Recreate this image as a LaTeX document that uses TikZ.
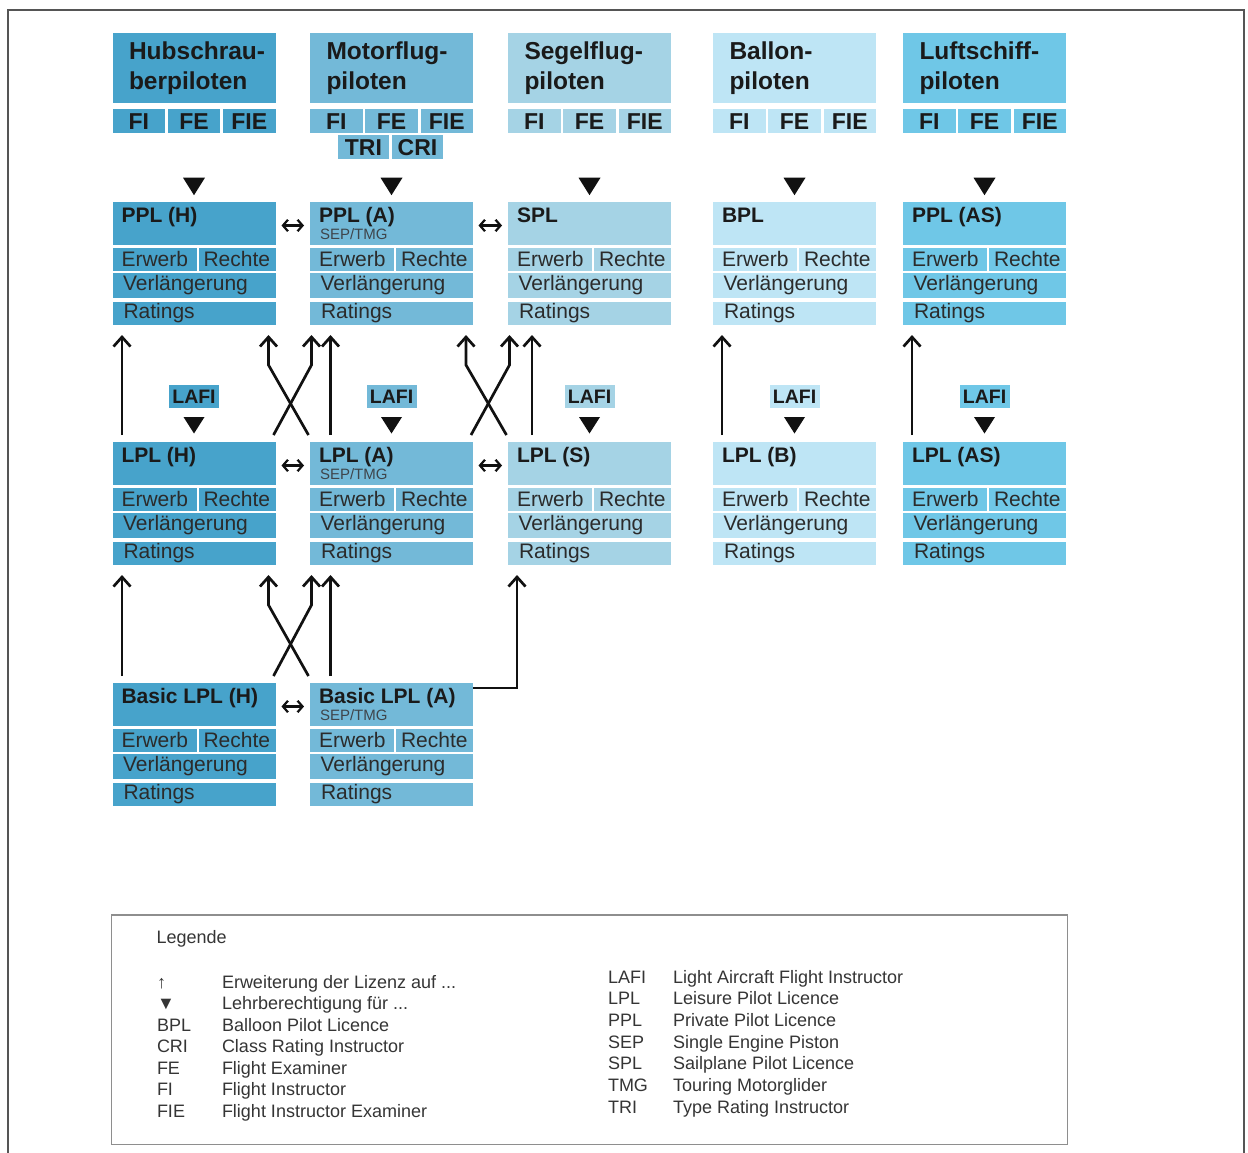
\documentclass[tikz,border=0pt]{standalone}
\usepackage{fontspec}
\setmainfont{Liberation Sans}
\usetikzlibrary{arrows.meta,calc}
\definecolor{cH}{HTML}{47A3CB}
\definecolor{cA}{HTML}{73B9D8}
\definecolor{cS}{HTML}{A5D3E5}
\definecolor{cB}{HTML}{BEE5F5}
\definecolor{cAS}{HTML}{6FC7E7}
\definecolor{txt}{HTML}{1A1A1A}
\definecolor{ctxt}{HTML}{2B2B2B}
\definecolor{subtxt}{HTML}{3E454B}
\definecolor{legtxt}{HTML}{353535}
\definecolor{legborder}{HTML}{8E8E8E}
\definecolor{framecol}{HTML}{555555}
\definecolor{arrcol}{HTML}{111111}
\newcommand\fsz[2]{\fontsize{#1}{#2}\selectfont}

\tikzset{
  cell/.style={rectangle, inner sep=0pt, outer sep=0pt, anchor=north west, draw=none},
  hcell/.style={cell, minimum width=52.5pt, minimum height=24pt, text=txt, font=\bfseries\fsz{23}{26}},
  ttl/.style={inner sep=0pt, outer sep=0pt, anchor=base west, text=txt, font=\bfseries\fsz{21}{25}},
  hdrttl/.style={inner sep=0pt, outer sep=0pt, anchor=base west, text=txt, font=\bfseries\fsz{24.5}{29}},
  celltxt/.style={inner sep=0pt, outer sep=0pt, anchor=base west, text=ctxt, font=\fsz{21}{24}},
  subt/.style={inner sep=0pt, outer sep=0pt, anchor=base west, text=subtxt, font=\fsz{15}{18}},
  lafi/.style={rectangle, inner sep=0pt, outer sep=0pt, minimum width=50pt, minimum height=23.5pt, text=txt, font=\bfseries\fsz{19.5}{22}},
  legt/.style={inner sep=0pt, outer sep=0pt, anchor=base west, text=legtxt, font=\fsz{18}{21}},
  uparr/.style={line width=2.7pt, draw=arrcol, -{Straight Barb[length=9.5pt,width=17pt]}},
  dbl/.style={line width=2.2pt, draw=arrcol, {Straight Barb[length=5pt,width=11.5pt]}-{Straight Barb[length=5pt,width=11.5pt]}},
  tri/.style={fill=arrcol}
}

% header block: name, x, colour, line1, line2
\newcommand\hdrblk[5]{%
  \node[cell, fill=#3, minimum width=163pt, minimum height=70.5pt] (#1) at (#2,32.7) {};
  \node[hdrttl] (#1-l1) at ($(#1.north west)+(16.5,27.3)$) {#4};
  \node[hdrttl] (#1-l2) at ($(#1.north west)+(16.5,56.8)$) {#5};
  \node[hcell, fill=#3] (#1-fi) at ($(#1.north west)+(0,76.5)$) {FI};
  \node[hcell, fill=#3] (#1-fe) at ($(#1.north west)+(55.25,76.5)$) {FE};
  \node[hcell, fill=#3] (#1-fie) at ($(#1.north west)+(110.5,76.5)$) {FIE};
  \fill[tri] ($(#1.south)+(-11,74.5)$) -- ($(#1.south)+(11,74.5)$) -- ($(#1.south)+(0,92)$) -- cycle;
}

% licence block: name, x, y, colour, title
\newcommand\licblk[5]{%
  \node[cell, fill=#4, minimum width=163pt, minimum height=43pt] (#1) at (#2,#3) {};
  \node[ttl] (#1-t) at ($(#1.north west)+(9,20.5)$) {#5};
  \node[cell, fill=#4, minimum width=84pt, minimum height=23pt] (#1-erw) at ($(#1.north west)+(0,46)$) {};
  \node[celltxt] (#1-erw-t) at ($(#1-erw.north west)+(9,18.7)$) {Erwerb};
  \node[cell, fill=#4, minimum width=77pt, minimum height=23pt] (#1-re) at ($(#1.north west)+(86,46)$) {};
  \node[celltxt] (#1-re-t) at ($(#1-re.north west)+(5,18.7)$) {Rechte};
  \node[cell, fill=#4, minimum width=163pt, minimum height=25pt] (#1-ver) at ($(#1.north west)+(0,71)$) {};
  \node[celltxt] (#1-ver-t) at ($(#1-ver.north west)+(10.5,17.7)$) {Verlängerung};
  \node[cell, fill=#4, minimum width=163pt, minimum height=23.5pt] (#1-rat) at ($(#1.north west)+(0,99.5)$) {};
  \node[celltxt] (#1-rat-t) at ($(#1-rat.north west)+(11,16.8)$) {Ratings};
}

% LAFI label + triangle above a licence block: name, block, colour
\newcommand\lafiblk[3]{%
  \node[lafi, fill=#3] (#1) at ($(#2.north)+(0,-45.7)$) {LAFI};
  \fill[tri] ($(#2.north)+(-10.5,-25)$) -- ($(#2.north)+(10.5,-25)$) -- ($(#2.north)+(0,-8.5)$) -- cycle;
}

% crossing arrows: lower-left block, lower-right block, upper-left ratings, upper-right ratings
\newcommand\xcross[4]{%
  \draw[uparr] ($(#1.north east)+(-2,-7)$) -- ($(#4.south west)+(1.5,40)$) -- ($(#4.south west)+(1.5,10)$);
  \draw[uparr] ($(#2.north west)+(-1.5,-7)$) -- ($(#3.south east)+(-7,40)$) -- ($(#3.south east)+(-7,10)$);
}
% straight arrow: lower block, upper ratings, x offset
\newcommand\straight[3]{%
  \draw[uparr] ($(#1.north west)+(#3,-7)$) -- ($(#2.south west)+(#3,10)$);
}

\begin{document}
\begin{tikzpicture}[x=1pt, y=-1pt]
\useasboundingbox (0,0) rectangle (1248,1153);
\fill[white] (0,0) rectangle (1248,1153);
% outer frame
\draw[framecol, line width=1.6pt] (8,1153) -- (8,10) -- (1244,10) -- (1244,1153);

% headers
\hdrblk{hH}{112.5}{cH}{Hubschrau-}{berpiloten}
\hdrblk{hA}{310}{cA}{Motorflug-}{piloten}
\hdrblk{hS}{508}{cS}{Segelflug-}{piloten}
\hdrblk{hB}{713}{cB}{Ballon-}{piloten}
\hdrblk{hAS}{903}{cAS}{Luftschiff-}{piloten}
\node[hcell, fill=cA, minimum width=51.5pt] (hA-tri) at (337.7,135.5) {TRI};
\node[hcell, fill=cA, minimum width=51.5pt] (hA-cri) at (391.7,135.5) {CRI};

% PPL row
\licblk{pplh}{112.5}{202}{cH}{PPL (H)}
\licblk{ppla}{310}{202}{cA}{PPL (A)}
\licblk{spl}{508}{202}{cS}{SPL}
\licblk{bpl}{713}{202}{cB}{BPL}
\licblk{pplas}{903}{202}{cAS}{PPL (AS)}
\node[subt] (ppla-s) at ($(ppla.north west)+(10,37)$) {SEP/TMG};

% LPL row
\licblk{lplh}{112.5}{442}{cH}{LPL (H)}
\licblk{lpla}{310}{442}{cA}{LPL (A)}
\licblk{lpls}{508}{442}{cS}{LPL (S)}
\licblk{lplb}{713}{442}{cB}{LPL (B)}
\licblk{lplas}{903}{442}{cAS}{LPL (AS)}
\node[subt] (lpla-s) at ($(lpla.north west)+(10,37)$) {SEP/TMG};

% Basic row
\licblk{bash}{112.5}{683}{cH}{Basic LPL (H)}
\licblk{basa}{310}{683}{cA}{Basic LPL (A)}
\node[subt] (basa-s) at ($(basa.north west)+(10,37)$) {SEP/TMG};

% LAFI
\lafiblk{lafiH}{lplh}{cH}
\lafiblk{lafiA}{lpla}{cA}
\lafiblk{lafiS}{lpls}{cS}
\lafiblk{lafiB}{lplb}{cB}
\lafiblk{lafiAS}{lplas}{cAS}

% double arrows
\draw[dbl] ($(pplh.east)+(6,2)$) -- ($(ppla.west)+(-6,2)$);
\draw[dbl] ($(ppla.east)+(5.5,2)$) -- ($(spl.west)+(-6,2)$);
\draw[dbl] ($(lplh.east)+(6,2)$) -- ($(lpla.west)+(-6,2)$);
\draw[dbl] ($(lpla.east)+(5.5,2)$) -- ($(lpls.west)+(-6,2)$);
\draw[dbl] ($(bash.east)+(6,2)$) -- ($(basa.west)+(-6,2)$);

% LPL -> PPL
\straight{lplh}{pplh-rat}{9.5}
\straight{lpla}{ppla-rat}{20.5}
\straight{lpls}{spl-rat}{24}
\straight{lplb}{bpl-rat}{9}
\straight{lplas}{pplas-rat}{9}
\xcross{lplh}{lpla}{pplh-rat}{ppla-rat}
\xcross{lpla}{lpls}{ppla-rat}{spl-rat}

% Basic -> LPL
\straight{bash}{lplh-rat}{9.5}
\straight{basa}{lpla-rat}{20.5}
\xcross{bash}{basa}{lplh-rat}{lpla-rat}
\draw[uparr] ($(basa.north east)+(0,5)$) -| ($(lpls-rat.south west)+(9,10)$);

% legend
\node[cell, draw=legborder, line width=1.3pt, minimum width=956pt, minimum height=229.5pt] (legend) at (111.5,915) {};
\node[legt] (lg-title) at ($(legend.north west)+(45,28)$) {Legende};
\node[legt] (lg-a1) at (157,988) {↑};
\node[legt] (lg-d1) at (222,988) {Erweiterung der Lizenz auf ...};
\node[legt] (lg-a2) at (157,1009.5) {▼};
\node[legt] (lg-d2) at (222,1009.5) {Lehrberechtigung für ...};
\node[legt] (lg-a3) at (157,1031) {BPL};
\node[legt] (lg-d3) at (222,1031) {Balloon Pilot Licence};
\node[legt] (lg-a4) at (157,1052.5) {CRI};
\node[legt] (lg-d4) at (222,1052.5) {Class Rating Instructor};
\node[legt] (lg-a5) at (157,1074) {FE};
\node[legt] (lg-d5) at (222,1074) {Flight Examiner};
\node[legt] (lg-a6) at (157,1095.5) {FI};
\node[legt] (lg-d6) at (222,1095.5) {Flight Instructor};
\node[legt] (lg-a7) at (157,1117) {FIE};
\node[legt] (lg-d7) at (222,1117) {Flight Instructor Examiner};
\node[legt] (lg-b1) at (608,983) {LAFI};
\node[legt] (lg-e1) at (673,983) {Light Aircraft Flight Instructor};
\node[legt] (lg-b2) at (608,1004.7) {LPL};
\node[legt] (lg-e2) at (673,1004.7) {Leisure Pilot Licence};
\node[legt] (lg-b3) at (608,1026.4) {PPL};
\node[legt] (lg-e3) at (673,1026.4) {Private Pilot Licence};
\node[legt] (lg-b4) at (608,1048) {SEP};
\node[legt] (lg-e4) at (673,1048) {Single Engine Piston};
\node[legt] (lg-b5) at (608,1069.8) {SPL};
\node[legt] (lg-e5) at (673,1069.8) {Sailplane Pilot Licence};
\node[legt] (lg-b6) at (608,1091.5) {TMG};
\node[legt] (lg-e6) at (673,1091.5) {Touring Motorglider};
\node[legt] (lg-b7) at (608,1113) {TRI};
\node[legt] (lg-e7) at (673,1113) {Type Rating Instructor};
\end{tikzpicture}
\end{document}
